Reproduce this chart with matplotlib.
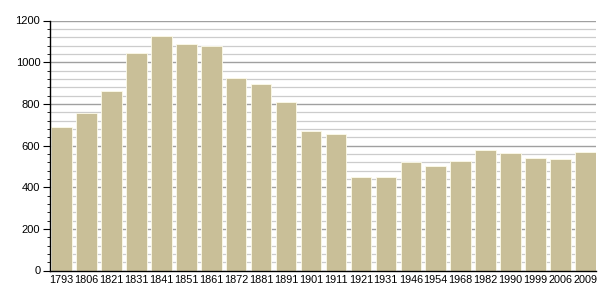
import matplotlib
matplotlib.use("Agg")
import matplotlib.pyplot as plt
from matplotlib.ticker import MultipleLocator

plt.rcParams['font.family'] = ['Liberation Sans', 'DejaVu Sans']

# Population by census year
years = ['1793', '1806', '1821', '1831', '1841', '1851', '1861', '1872', '1881', '1891', '1901',
         '1911', '1921', '1931', '1946', '1954', '1968', '1982', '1990', '1999', '2006', '2009']
population = [688, 757, 862, 1044, 1127, 1089, 1076, 924, 895, 809, 670,
              655, 449, 449, 519, 503, 527, 578, 565, 541, 537, 570]

fig = plt.figure(figsize=(6.05, 3.0), dpi=100)
ax = fig.add_axes([50 / 605, 29.5 / 300, 546 / 605, 250 / 300])

x = range(len(years))
ax.bar(x, population, width=0.82, color='#c9bf98', edgecolor='#fdfbea', linewidth=0.6, zorder=2)

ax.set_ylim(0, 1200)
ax.set_xlim(-0.47, len(years) - 0.57)
ax.yaxis.set_major_locator(MultipleLocator(200))
ax.yaxis.set_minor_locator(MultipleLocator(40))
ax.grid(axis='y', which='major', color='#a0a0a0', linewidth=1.0, zorder=0)
ax.grid(axis='y', which='minor', color='#cccccc', linewidth=0.9, zorder=0)

ax.set_xticks(list(x))
ax.set_xticklabels(years)
ax.tick_params(axis='x', length=0, pad=3, labelsize=7.8)
ax.tick_params(axis='y', which='major', length=5, width=0.8, labelsize=8, pad=2)
ax.tick_params(axis='y', which='minor', length=2.5, width=0.6)

for s in ['top', 'right']:
    ax.spines[s].set_visible(False)
ax.spines['left'].set_linewidth(1.0)
ax.spines['bottom'].set_linewidth(1.0)

fig.savefig('out.png', dpi=100)
